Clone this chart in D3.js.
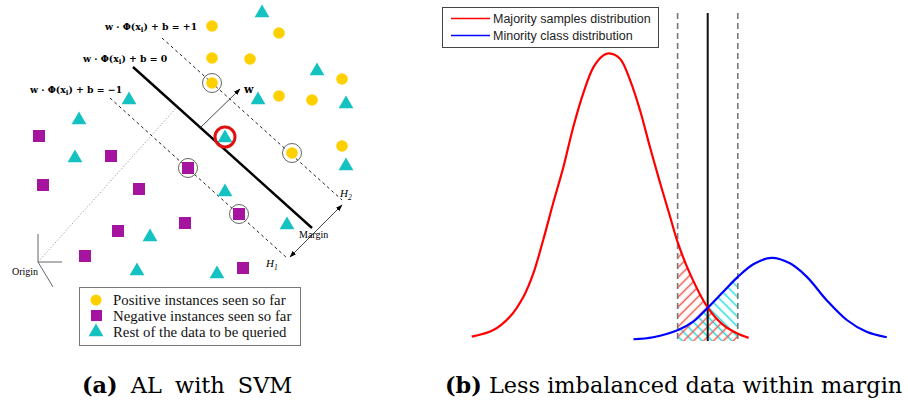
<!DOCTYPE html>
<html>
<head>
<meta charset="utf-8">
<script src="https://cdn.jsdelivr.net/npm/d3@7"></script>
<style>
  body { margin: 0; background: #fff; }
  svg { display: block; }
</style>
</head>
<body>
<div id="chart"></div>
<script>
'use strict';

// ---------- panel (a): points in units measured from the "Origin" corner
const positives = [[17.4, 23.6], [24.1, 22.9], [17.4, 20.4], [21.2, 20.3], [17.4, 17.9],
    [30.4, 18.3], [24.1, 16.6], [27.4, 16.2], [30.4, 11.6], [25.4, 10.9]]
const negatives = [[0.1, 12.6], [7.3, 10.6], [0.5, 7.7], [10.1, 7.3], [15.0, 9.4],
    [20.1, 4.8], [14.7, 3.9], [8.0, 3.1], [4.7, 0.6], [20.5, -0.6]]
const unlabeled = [[22.4, 25.0], [27.9, 19.2], [22.0, 16.3], [30.8, 15.9], [9.1, 16.3],
    [4.1, 14.3], [3.7, 10.5], [18.7, 12.5], [30.8, 9.7], [18.7, 7.1], [24.9, 3.8],
    [11.2, 2.6], [9.9, -0.8], [17.9, -1.1]]
const supportVectors = [[17.4, 17.9], [25.4, 10.9], [15.0, 9.4], [20.1, 4.8]]
const queried = [18.7, 12.5]
const hyperplane = [[9.5, 19.5], [27.4, 3.4]]
const marginPlus = [[12.4, 22.4], [30.4, 6.2]]
const marginMinus = [[7.2, 16.4], [24.9, 0.4]]
const normalW = [[16.2, 13.4], [20.2, 17.3]]
const originRay = [[0, 0], [13.9, 15.5]]
const marginArrow = [[25.2, 0.5], [30.4, 5.7]]
const originAxes = [[0, 2.8], [2.4, 0], [1.5, -2.5]]
const legendA = ['Positive instances seen so far', 'Negative instances seen so far', 'Rest of the data to be queried']

// ---------- panel (b): two class densities (x in std units of the majority class)
const majorityX = [-2.92, -2.46, -2.11, -1.82, -1.61, -1.40, -1.19, -0.97, -0.76, -0.55, -0.33, -0.12,
    0.0, 0.23, 0.45, 0.66, 0.87, 1.09, 1.30, 1.47, 1.72, 2.09, 2.43, 2.72, 2.97]
const majorityY = [0.015, 0.038, 0.084, 0.154, 0.235, 0.351, 0.478, 0.605, 0.744, 0.860, 0.952, 0.993,
    1.0, 0.982, 0.906, 0.802, 0.675, 0.548, 0.432, 0.339, 0.235, 0.119, 0.056, 0.027, 0.011]
const minorityX = [0.52, 0.94, 1.47, 1.79, 2.09, 2.43, 2.73, 3.07, 3.46, 3.85, 4.21, 4.63, 5.06, 5.48, 5.91]
const minorityY = [0.006, 0.013, 0.038, 0.067, 0.114, 0.171, 0.221, 0.267, 0.289, 0.270, 0.223, 0.142,
    0.073, 0.032, 0.013]
const marginLow = 1.46, boundary = 2.10, marginHigh = 2.74
const lineTop = 1.14
const legendB = ['Majority samples distribution', 'Minority class distribution']

const colors = { pos: '#FFD000', neg: '#A5149F', rest: '#14C2C2' }

let svg = d3.select('#chart').append('svg')
    .attr('width', 908).attr('height', 401)

let defs = svg.append('defs')

function arrowMarker(id, orient) {
    defs.append('marker')
        .attr('id', id)
        .attr('viewBox', '0 0 10 10')
        .attr('refX', 9).attr('refY', 5)
        .attr('markerWidth', 7).attr('markerHeight', 7)
        .attr('markerUnits', 'userSpaceOnUse')
        .attr('orient', orient)
        .append('path')
        .attr('d', 'M0,1.5 L10,5 L0,8.5 z')
        .attr('fill', '#000')
}
arrowMarker('arrowEnd', 'auto')
arrowMarker('arrowStart', 'auto-start-reverse')

// ===================== panel (a) =====================
let xA = d3.scaleLinear().domain([0, 31]).range([38, 348])
let yA = d3.scaleLinear().domain([0, 26]).range([262, 2])
let gA = svg.append('g')

let seg = d3.line().x(d => xA(d[0])).y(d => yA(d[1]))

gA.append('path').datum(originRay)
    .attr('d', seg).attr('stroke', '#999').attr('stroke-width', 1)
    .attr('stroke-dasharray', '1.2,2').attr('fill', 'none')

originAxes.forEach(p => {
    gA.append('path').datum([[0, 0], p])
        .attr('d', seg).attr('stroke', '#666').attr('stroke-width', 1).attr('fill', 'none')
})

;[marginPlus, marginMinus].forEach(l => {
    gA.append('path').datum(l)
        .attr('d', seg).attr('stroke', '#222').attr('stroke-width', 1)
        .attr('stroke-dasharray', '3,3').attr('fill', 'none')
})

gA.append('path').datum(hyperplane)
    .attr('d', seg).attr('stroke', '#000').attr('stroke-width', 2.4).attr('fill', 'none')

gA.append('path').datum(normalW)
    .attr('d', seg).attr('stroke', '#333').attr('stroke-width', 0.9).attr('fill', 'none')
    .attr('marker-end', 'url(#arrowEnd)')

gA.append('path').datum(marginArrow)
    .attr('d', seg).attr('stroke', '#333').attr('stroke-width', 0.9).attr('fill', 'none')
    .attr('marker-end', 'url(#arrowEnd)').attr('marker-start', 'url(#arrowStart)')

let tri = d3.symbol().type(d3.symbolTriangle).size(95)

gA.selectAll('.pos').data(positives).join('circle')
    .attr('cx', d => xA(d[0])).attr('cy', d => yA(d[1])).attr('r', 5.8)
    .attr('fill', colors.pos)
gA.selectAll('.neg').data(negatives).join('rect')
    .attr('x', d => xA(d[0]) - 6).attr('y', d => yA(d[1]) - 6)
    .attr('width', 12).attr('height', 12).attr('fill', colors.neg)
gA.selectAll('.rest').data(unlabeled).join('path')
    .attr('d', tri)
    .attr('transform', d => `translate(${xA(d[0])},${yA(d[1]) + 1})`)
    .attr('fill', colors.rest)

gA.selectAll('.sv').data(supportVectors).join('circle')
    .attr('cx', d => xA(d[0])).attr('cy', d => yA(d[1])).attr('r', 9.5)
    .attr('fill', 'none').attr('stroke', '#555').attr('stroke-width', 0.9)

gA.append('circle')
    .attr('cx', xA(queried[0])).attr('cy', yA(queried[1])).attr('r', 10)
    .attr('fill', 'none').attr('stroke', '#E0100E').attr('stroke-width', 3)

// labels
function formula(x, y, rhs) {
    let t = gA.append('text').attr('x', x).attr('y', y)
        .attr('font-family', 'DejaVu Serif').attr('font-weight', 'bold').attr('font-size', 9.3)
    t.append('tspan').text('w · Φ(x')
    t.append('tspan').text('i').attr('font-size', 7).attr('dy', 2)
    t.append('tspan').text(') + b = ' + rhs).attr('dy', -2)
}
formula(105, 30, '+1')
formula(83, 62, '0')
formula(30, 93, '−1')

gA.append('text').attr('x', 244).attr('y', 93)
    .attr('font-family', 'DejaVu Serif').attr('font-weight', 'bold').attr('font-size', 11).text('w')

gA.append('text').attr('x', 299).attr('y', 238)
    .attr('font-family', 'Liberation Serif').attr('font-size', 10).text('Margin')
gA.append('text').attr('x', 12).attr('y', 275)
    .attr('font-family', 'Liberation Serif').attr('font-size', 10).text('Origin')

function hLabel(x, y, s) {
    let t = gA.append('text').attr('x', x).attr('y', y)
        .attr('font-family', 'Liberation Serif').attr('font-style', 'italic').attr('font-size', 11)
    t.append('tspan').text('H')
    t.append('tspan').text(s).attr('font-size', 7.5).attr('dy', 2.5)
}
hLabel(266, 267, '1')
hLabel(340, 197, '2')

// legend (a)
let lgA = gA.append('g')
lgA.append('rect').attr('x', 79.5).attr('y', 287.5).attr('width', 221).attr('height', 58)
    .attr('fill', '#fff').attr('stroke', '#777').attr('stroke-width', 1)
lgA.append('circle').attr('cx', 96).attr('cy', 300).attr('r', 5.5).attr('fill', colors.pos)
lgA.append('rect').attr('x', 91).attr('y', 310).attr('width', 11).attr('height', 11).attr('fill', colors.neg)
lgA.append('path').attr('d', tri).attr('transform', 'translate(96,332)').attr('fill', colors.rest)
lgA.selectAll('.lt').data(legendA).join('text')
    .attr('x', 113).attr('y', (d, i) => 305 + i * 16)
    .attr('font-family', 'Liberation Serif').attr('font-size', 14.8).attr('fill', '#111')
    .text(d => d)

// ===================== panel (b) =====================
let xB = d3.scaleLinear().domain([-3, 6]).range([468, 891])
let yB = d3.scaleLinear().domain([0, 1]).range([341, 53.3])
let gB = svg.append('g')

let majority = majorityX.map((x, i) => [x, majorityY[i]])
let minority = minorityX.map((x, i) => [x, minorityY[i]])

function hatch(id, angle, color) {
    let p = defs.append('pattern').attr('id', id)
        .attr('patternUnits', 'userSpaceOnUse')
        .attr('width', 7).attr('height', 7)
        .attr('patternTransform', `rotate(${angle})`)
    p.append('line').attr('x1', 3.5).attr('y1', 0).attr('x2', 3.5).attr('y2', 7)
        .attr('stroke', color).attr('stroke-width', 1.5)
}
hatch('hatchCyan', -45, '#1EE0E0')
hatch('hatchRed', 45, '#EE5A52')

defs.append('clipPath').attr('id', 'marginClip')
    .append('rect')
    .attr('x', xB(marginLow)).attr('y', 0)
    .attr('width', xB(marginHigh) - xB(marginLow)).attr('height', 401)

let area = d3.area().curve(d3.curveCatmullRom)
    .x(d => xB(d[0])).y0(yB(0)).y1(d => yB(d[1]))
let line = d3.line().curve(d3.curveCatmullRom)
    .x(d => xB(d[0])).y(d => yB(d[1]))

gB.append('path').datum(minority).attr('d', area)
    .attr('fill', 'url(#hatchCyan)').attr('clip-path', 'url(#marginClip)')
gB.append('path').datum(majority).attr('d', area)
    .attr('fill', 'url(#hatchRed)').attr('clip-path', 'url(#marginClip)')

;[marginLow, marginHigh].forEach(v => {
    gB.append('line')
        .attr('x1', xB(v)).attr('x2', xB(v)).attr('y1', yB(lineTop)).attr('y2', yB(0))
        .attr('stroke', '#777').attr('stroke-width', 1.6).attr('stroke-dasharray', '6,4')
})
gB.append('line')
    .attr('x1', xB(boundary)).attr('x2', xB(boundary)).attr('y1', yB(lineTop)).attr('y2', yB(0))
    .attr('stroke', '#111').attr('stroke-width', 2)

gB.append('path').datum(majority).attr('d', line)
    .attr('fill', 'none').attr('stroke', '#FF0000').attr('stroke-width', 2.2)
gB.append('path').datum(minority).attr('d', line)
    .attr('fill', 'none').attr('stroke', '#0000FF').attr('stroke-width', 2.2)

// legend (b)
let lgB = gB.append('g')
lgB.append('rect').attr('x', 442.5).attr('y', 7.5).attr('width', 216).attr('height', 40)
    .attr('fill', '#fff').attr('stroke', '#444').attr('stroke-width', 1)
lgB.selectAll('.ll').data(['#FF0000', '#0000FF']).join('line')
    .attr('x1', 451).attr('x2', 490)
    .attr('y1', (d, i) => 18.5 + i * 17).attr('y2', (d, i) => 18.5 + i * 17)
    .attr('stroke', d => d).attr('stroke-width', 1.6)
lgB.selectAll('.lt').data(legendB).join('text')
    .attr('x', 493).attr('y', (d, i) => 23 + i * 17)
    .attr('font-family', 'Liberation Sans').attr('font-size', 12.5).attr('fill', '#222')
    .text(d => d)

// ===================== captions =====================
function caption(x, tag, rest, ws) {
    let t = svg.append('text').attr('x', x).attr('y', 393)
        .attr('font-family', 'DejaVu Serif').attr('font-size', 22.4)
        .attr('word-spacing', ws)
    t.append('tspan').attr('font-weight', 'bold').text(tag)
    t.append('tspan').text(' ' + rest)
}
caption(82, '(a)', 'AL with SVM', 6)
caption(445, '(b)', 'Less imbalanced data within margin', 0)
</script>
</body>
</html>
